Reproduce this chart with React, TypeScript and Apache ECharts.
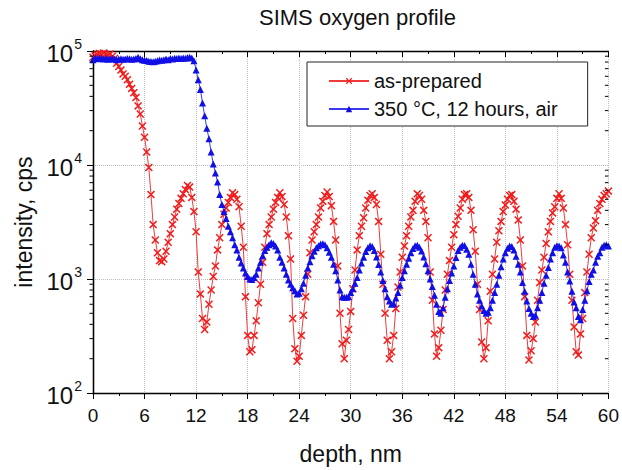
import React, { useEffect, useRef } from "react";
import * as echarts from "echarts";

const titleText = "SIMS oxygen profile";
const xAxisName = "depth, nm";
const yAxisName = "intensity, cps";
const seriesNames = ["as-prepared", "350 \u00B0C, 12 hours, air"];
const depthStep = 0.25; // nm between measured points
const xTicks = { min: 0, max: 60, interval: 6 };
const yRange = { min: 100, max: 100000 };
const minorTickValues = [
  200, 300, 400, 500, 600, 700, 800, 900,
  2000, 3000, 4000, 5000, 6000, 7000, 8000, 9000,
  20000, 30000, 40000, 50000, 60000, 70000, 80000, 90000,
];

const asPrepared = [
  88000, 91000, 93000, 95000, 94000, 96000, 93000, 92000,
  94000, 90000, 86000, 78000, 73000, 68000, 63000, 60000,
  56000, 51000, 47000, 43000, 39000, 33000, 28000, 22000,
  17500, 13000, 9500, 5500, 3000, 2200, 1700, 1450,
  1420, 1500, 1750, 2100, 2500, 3000, 3500, 4100,
  4600, 5100, 5600, 6100, 6600, 6400, 5200, 3900,
  2600, 1150, 740, 450, 360, 420, 600, 800,
  1050, 1300, 1800, 2300, 3000, 3700, 4200, 4700,
  5200, 5700, 5500, 5000, 4300, 2900, 1900, 700,
  320, 230, 240, 320, 430, 620, 900, 1400,
  1900, 2500, 3000, 3500, 4100, 4700, 5200, 5700,
  5300, 4500, 3500, 2400, 1500, 450, 245, 190,
  210, 320, 480, 700, 1100, 1700, 2200, 2600,
  3000, 3500, 4200, 4800, 5400, 5800, 5300, 4400,
  3200, 2200, 1300, 500, 270, 200, 290, 360,
  520, 820, 1200, 1800, 2400, 2900, 3450, 4200,
  4900, 5400, 5600, 5200, 4500, 3200, 1650, 900,
  500, 290, 200, 230, 320, 550, 850, 1150,
  1550, 1950, 2400, 2900, 3500, 4000, 4800, 5600,
  5400, 5000, 4000, 3200, 2300, 1150, 650, 330,
  210, 250, 355, 540, 800, 1100, 1450, 1900,
  2450, 3000, 3550, 4200, 5000, 5500, 5600, 5200,
  4000, 2700, 1750, 900, 540, 280, 200, 250,
  430, 780, 1100, 1500, 2100, 2650, 3200, 3900,
  4450, 5000, 5400, 5500, 4800, 4100, 3300, 2200,
  1300, 700, 320, 195, 235, 300, 420, 650,
  930, 1200, 1550, 2050, 2600, 3200, 3800, 4300,
  5100, 5600, 5100, 4200, 3000, 2000, 1100, 650,
  380, 230, 215, 330, 450, 760, 1150, 1650,
  2300, 2800, 3250, 4000, 4600, 5000, 5400, 5600,
  5900,
];

const annealed = [
  84000, 86500, 85500, 87000, 86000, 85000, 86000, 84500,
  85500, 86000, 85000, 84000, 85000, 85500, 84500, 85000,
  86000, 85500, 84500, 85000, 86000, 88000, 85500, 84000,
  83000, 82500, 81500, 81000, 80500, 81500, 82000, 83500,
  83000, 84000, 85000, 84000, 86000, 85000, 86500, 86000,
  87000, 86000, 87000, 86500, 87500, 88000, 87000, 82000,
  68000, 56000, 46000, 35000, 27000, 21000, 17000, 13000,
  10200, 8500, 7100, 5500, 4500, 3900, 3400, 2900,
  2600, 2300, 2000, 1800, 1550, 1380, 1250, 1130,
  1050, 1000, 990, 1030, 1100, 1250, 1400, 1600,
  1780, 1900, 2000, 2080, 2050, 1950, 1800, 1550,
  1400, 1250, 1100, 980, 900, 840, 790, 740,
  750, 820, 920, 1080, 1250, 1420, 1600, 1750,
  1880, 1960, 2030, 2040, 2000, 1880, 1720, 1550,
  1350, 1180, 980, 800, 700, 690, 690, 700,
  760, 820, 920, 1030, 1200, 1380, 1550, 1740,
  1880, 1960, 1930, 1780, 1560, 1340, 1150, 970,
  820, 700, 640, 600, 610, 680, 760, 880,
  1030, 1180, 1350, 1520, 1700, 1850, 1960, 1980,
  1900, 1760, 1560, 1360, 1180, 1000, 860, 720,
  600, 520, 500, 560, 690, 820, 970, 1130,
  1300, 1540, 1780, 1900, 1980, 1970, 1820, 1650,
  1350, 1100, 900, 740, 650, 580, 530, 500,
  510, 560, 650, 760, 900, 1080, 1280, 1500,
  1700, 1860, 1950, 1930, 1800, 1580, 1350, 1150,
  930, 780, 640, 550, 500, 470, 480, 560,
  650, 760, 920, 1080, 1260, 1500, 1700, 1900,
  1960, 1950, 1880, 1620, 1400, 1150, 960, 780,
  630, 560, 470, 440, 540, 650, 790, 950,
  1100, 1200, 1400, 1580, 1700, 1900, 1980, 2000,
  1950,
];

const FONT = "'Liberation Sans', Arial, Helvetica, sans-serif";
const CROSS =
  "path://M0,1.3L1.3,0L5,3.7L8.7,0L10,1.3L6.3,5L10,8.7L8.7,10L5,6.3L1.3,10L0,8.7L3.7,5Z";

export default function App() {
  const ref = useRef<HTMLDivElement>(null);
  useEffect(() => {
    if (!ref.current) return;
    const chart = echarts.init(ref.current, null, { renderer: "svg" });
    const toPairs = (arr: number[]) => arr.map((v, i) => [i * depthStep, v]);
    const axisLine = { show: true, lineStyle: { color: "#000", width: 1.3 } };
    const split = { show: true, lineStyle: { color: "#bdbdbd", type: "dotted", width: 1 } };
    const option: any = {
      animation: false,
      backgroundColor: "#fff",
      textStyle: { fontFamily: FONT },
      title: {
        text: titleText,
        left: 259,
        top: 6,
        padding: 0,
        textStyle: { fontSize: 22, fontWeight: "normal", fontFamily: FONT, color: "#111" },
      },
      grid: { left: 93, right: 13, top: 51, bottom: 73, containLabel: false },
      legend: {
        data: seriesNames,
        orient: "vertical",
        left: 307,
        top: 62,
        padding: [9, 30, 7, 21],
        itemGap: 8,
        itemWidth: 40,
        itemHeight: 8,
        borderColor: "#222",
        borderWidth: 1,
        borderRadius: 0,
        backgroundColor: "#fff",
        textStyle: { fontSize: 20, fontFamily: FONT, color: "#111", padding: [0, 0, 0, 0] },
      },
      xAxis: [
        {
          type: "value",
          position: "bottom",
          min: xTicks.min,
          max: xTicks.max,
          interval: xTicks.interval,
          name: xAxisName,
          nameLocation: "middle",
          nameGap: 49,
          nameTextStyle: { fontSize: 23, fontFamily: FONT, color: "#111" },
          axisLine,
          axisTick: { show: true, inside: false, length: 6, lineStyle: { color: "#000", width: 1 } },
          minorTick: { show: true, splitNumber: 2, length: 3, lineStyle: { color: "#000", width: 1 } },
          axisLabel: { fontSize: 19, fontFamily: FONT, color: "#111", margin: 13 },
          splitLine: split,
        },
        {
          type: "value",
          position: "top",
          min: xTicks.min,
          max: xTicks.max,
          interval: xTicks.interval,
          axisLine,
          axisTick: { show: true, inside: true, length: 6, lineStyle: { color: "#000", width: 1 } },
          minorTick: { show: true, splitNumber: 2, length: 3, lineStyle: { color: "#000", width: 1 } },
          axisLabel: { show: false },
          splitLine: { show: false },
        },
      ],
      yAxis: [
        {
          type: "log",
          logBase: 10,
          position: "left",
          min: yRange.min,
          max: yRange.max,
          name: yAxisName,
          nameLocation: "middle",
          nameGap: 57,
          nameTextStyle: { fontSize: 23, fontFamily: FONT, color: "#111" },
          axisLine,
          axisTick: { show: true, inside: false, length: 6, lineStyle: { color: "#000", width: 1 } },
          axisLabel: {
            margin: 11,
            formatter: (v: number) => `{b|10}{e|${Math.round(Math.log10(v))}}`,
            rich: {
              b: { fontSize: 24, fontFamily: FONT, color: "#111", lineHeight: 28, verticalAlign: "bottom" },
              e: { fontSize: 14, fontFamily: FONT, color: "#111", lineHeight: 28, verticalAlign: "top", padding: [0, 0, 12, 1] },
            },
          },
          splitLine: split,
        },
        {
          type: "log",
          logBase: 10,
          position: "right",
          min: yRange.min,
          max: yRange.max,
          axisLine,
          axisTick: { show: true, inside: true, length: 6, lineStyle: { color: "#000", width: 1 } },
          axisLabel: { show: false },
          splitLine: { show: false },
        },
      ],
      series: [
        {
          name: seriesNames[0],
          type: "line",
          xAxisIndex: 0,
          yAxisIndex: 0,
          data: toPairs(asPrepared),
          symbol: CROSS,
          symbolSize: 8,
          showAllSymbol: true,
          lineStyle: { color: "#f03a3a", width: 1 },
          itemStyle: { color: "#f21b1b" },
          z: 3,
        },
        {
          name: seriesNames[1],
          type: "line",
          xAxisIndex: 0,
          yAxisIndex: 0,
          data: toPairs(annealed),
          symbol: "triangle",
          symbolSize: 7,
          showAllSymbol: true,
          lineStyle: { color: "#3a3af0", width: 1 },
          itemStyle: { color: "#1010e6" },
          z: 4,
        },
        {
          type: "custom",
          xAxisIndex: 0,
          yAxisIndex: 0,
          silent: true,
          clip: false,
          z: 10,
          data: minorTickValues.map((v) => [xTicks.min, v]),
          renderItem: (_p: any, api: any) => {
            const v = api.value(1);
            const l = api.coord([xTicks.min, v]);
            const r = api.coord([xTicks.max, v]);
            const st = { stroke: "#000", lineWidth: 1 };
            return {
              type: "group",
              children: [
                { type: "line", shape: { x1: l[0] - 3.5, y1: l[1], x2: l[0], y2: l[1] }, style: st },
                { type: "line", shape: { x1: r[0] - 3.5, y1: r[1], x2: r[0], y2: r[1] }, style: st },
              ],
            };
          },
        },
      ],
    };
    chart.setOption(option);
    return () => chart.dispose();
  }, []);
  return (
    <div
      ref={ref}
      style={{ position: "absolute", left: 0, top: 0, width: 622, height: 470, background: "#fff" }}
    />
  );
}
